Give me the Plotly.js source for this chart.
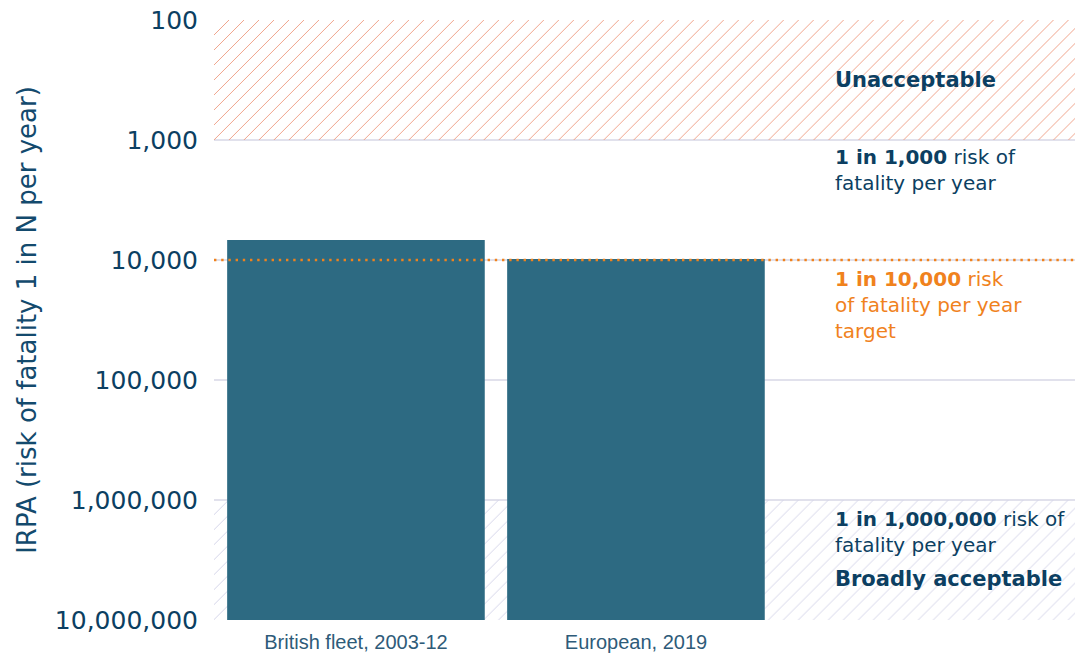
<!DOCTYPE html>
<html>
<head>
<meta charset="utf-8">
<script src="https://cdn.plot.ly/plotly-3.0.1.min.js"></script>
<style>html,body{margin:0;padding:0;background:#fff;}#chart{width:1078px;height:655px;}</style>
</head>
<body>
<div id="chart"></div>
<script>
// ---- data ----
const categories = ["British fleet, 2003-12", "European, 2019"];
const irpaValues = [6800, 9800];            // 1 in N per year
const tickValues = [100, 1000, 10000, 100000, 1000000, 10000000];
const tickLabels = ["100", "1,000", "10,000", "100,000", "1,000,000", "10,000,000"];
const targetN = 10000;
const unacceptableBand = [100, 1000];
const acceptableBand = [1000000, 10000000];
const axisBottom = 10000000;

const xMin = -0.507, xMax = 2.568;
const navy = "#0c3f62";
const orange = "#f0821d";

const catIdx = categories.map((c, i) => i);

function band(lo, hi, color) {
  return {
    type: "bar",
    x: [(xMin + xMax) / 2],
    width: [xMax - xMin],
    base: [lo],
    y: [hi - lo],
    marker: {
      color: "rgba(0,0,0,0)",
      line: {width: 0},
      pattern: {shape: "/", size: 10.6, solidity: 0.09, fgcolor: color, bgcolor: "rgba(0,0,0,0)", fgopacity: 1, fillmode: "overlay"}
    },
    hoverinfo: "skip", showlegend: false
  };
}

const traces = [
  band(unacceptableBand[0], unacceptableBand[1], "#ef9f86"),
  band(acceptableBand[0], acceptableBand[1], "#d3d3e8"),
  {
    type: "bar",
    x: catIdx,
    y: irpaValues.map(v => v - axisBottom),
    base: irpaValues.map(() => axisBottom),
    width: irpaValues.map(() => 0.92),
    marker: {color: "#2d6a82", line: {width: 0}},
    hoverinfo: "skip", showlegend: false
  },
  {
    type: "scatter", mode: "lines",
    x: [xMin, xMax], y: [targetN, targetN],
    line: {color: orange, width: 2.6, dash: "2.4px,4.8px"},
    hoverinfo: "skip", showlegend: false
  }
];

const pxToPaper = py => (620 - py) / 600;
const annX = (833 - 214) / 861;
const baseFont = {family: "DejaVu Sans", size: 20, color: navy};

const annotations = [
  {text: "<b>Unacceptable</b>", y: pxToPaper(80), font: Object.assign({}, baseFont, {size: 21})},
  {text: "<b>1 in 1,000</b> risk of<br>fatality per year", y: pxToPaper(170), font: baseFont},
  {text: "<b>1 in 10,000</b> risk<br>of fatality per year<br>target", y: pxToPaper(305), font: Object.assign({}, baseFont, {color: orange})},
  {text: "<b>1 in 1,000,000</b> risk of<br>fatality per year", y: pxToPaper(532), font: baseFont},
  {text: "<b>Broadly acceptable</b>", y: pxToPaper(579), font: Object.assign({}, baseFont, {size: 21})}
].map(a => Object.assign({xref: "paper", yref: "paper", x: annX, xanchor: "left", yanchor: "middle", align: "left", showarrow: false}, a));

const layout = {
  width: 1078, height: 655,
  margin: {l: 214, r: 3, t: 20, b: 35},
  paper_bgcolor: "#ffffff", plot_bgcolor: "#ffffff",
  barmode: "overlay",
  showlegend: false,
  xaxis: {
    type: "linear", range: [xMin, xMax],
    tickvals: catIdx, ticktext: categories,
    showgrid: false, zeroline: false, showline: false, ticks: "",
    ticklabelstandoff: 8,
    tickfont: {family: "Liberation Sans, Arial", size: 20, color: "#2e5b79"},
    fixedrange: true
  },
  yaxis: {
    type: "log", range: [7, 2],
    tickvals: tickValues, ticktext: tickLabels,
    showgrid: true, gridcolor: "#e1e1ec", gridwidth: 1.5,
    zeroline: false, showline: false, ticks: "",
    ticklabelstandoff: 15,
    tickfont: {family: "DejaVu Sans", size: 25, color: navy},
    title: {text: "IRPA (risk of fatality 1 in N per year)", font: {family: "DejaVu Sans", size: 26, color: "#134a6d"}, standoff: 10},
    fixedrange: true
  },
  annotations: annotations
};

Plotly.newPlot("chart", traces, layout, {displayModeBar: false, staticPlot: true});
</script>
</body>
</html>
